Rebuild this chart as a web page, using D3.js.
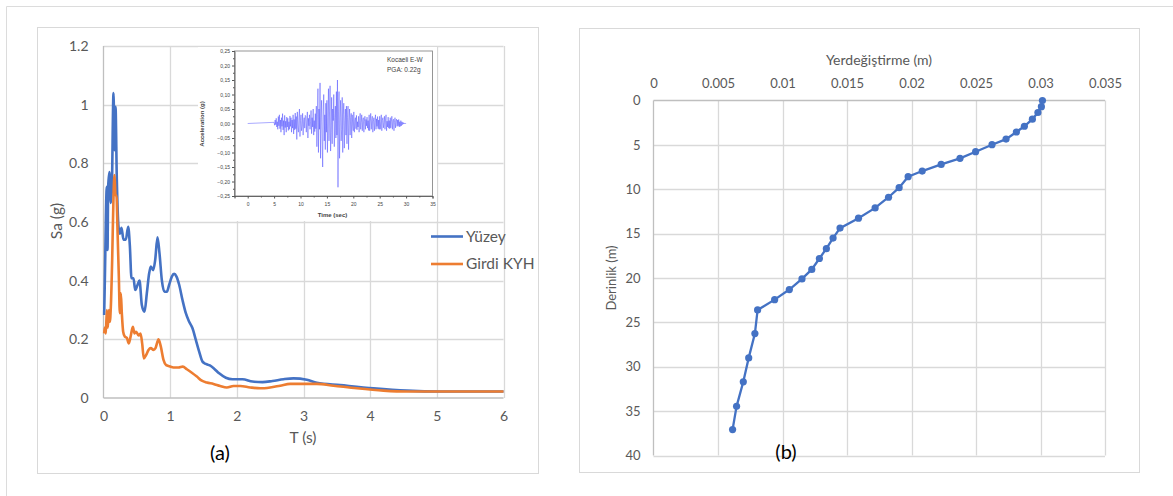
<!DOCTYPE html>
<html>
<head>
<meta charset="utf-8">
<script src="https://cdn.jsdelivr.net/npm/d3@7"></script>
<style>
  body { margin: 0; background: #fff; }
  svg { display: block; font-family: Lato, "Open Sans", sans-serif; }
</style>
</head>
<body>
<svg id="canvas" width="1173" height="496"></svg>
<script>
// ---------------------------------------------------------------- data
var periods_surface = [0.01,0.02,0.05,0.06,0.07,0.089,0.11,0.125,0.15,0.165,0.18,0.2,0.225,0.245,0.27,0.3,0.335,0.37,0.395,0.42,0.45,0.475,0.51,0.54,0.575,0.615,0.65,0.685,0.71,0.745,0.775,0.81,0.84,0.875,0.915,0.95,0.985,1.025,1.06,1.095,1.135,1.185,1.235,1.285,1.335,1.385,1.435,1.485,1.535,1.595,1.66,1.735,1.835,1.935,2.085,2.235,2.385,2.535,2.7,2.85,3.05,3.2,3.55,4.05,4.55,5.05,6];
var sa_surface = [0.283,0.40,0.72,0.505,0.72,0.77,0.665,0.71,1.04,0.845,0.993,0.743,0.584,0.56,0.58,0.54,0.54,0.584,0.52,0.408,0.408,0.368,0.385,0.40,0.317,0.294,0.357,0.425,0.448,0.436,0.47,0.548,0.493,0.402,0.362,0.362,0.386,0.414,0.423,0.414,0.386,0.334,0.289,0.26,0.238,0.198,0.158,0.124,0.116,0.111,0.10,0.084,0.069,0.064,0.064,0.056,0.054,0.058,0.064,0.067,0.062,0.052,0.044,0.033,0.025,0.022,0.022];

var periods_input = [0.01,0.02,0.035,0.05,0.065,0.08,0.095,0.11,0.13,0.15,0.165,0.18,0.195,0.21,0.23,0.245,0.26,0.275,0.295,0.32,0.35,0.38,0.41,0.44,0.465,0.49,0.525,0.555,0.58,0.605,0.64,0.675,0.71,0.75,0.78,0.825,0.86,0.9,0.94,0.99,1.05,1.125,1.19,1.25,1.325,1.4,1.475,1.55,1.65,1.75,1.85,1.95,2.05,2.2,2.35,2.5,2.65,2.8,3.2,3.45,3.8,4.2,4.55,6];
var sa_input = [0.22,0.24,0.22,0.30,0.24,0.30,0.26,0.31,0.47,0.686,0.76,0.69,0.69,0.573,0.414,0.289,0.357,0.289,0.226,0.209,0.205,0.186,0.213,0.243,0.22,0.226,0.213,0.22,0.186,0.135,0.147,0.164,0.17,0.164,0.17,0.20,0.175,0.13,0.112,0.108,0.104,0.104,0.107,0.098,0.086,0.073,0.059,0.053,0.048,0.041,0.036,0.041,0.041,0.036,0.033,0.036,0.042,0.048,0.048,0.042,0.033,0.025,0.022,0.022];

var series_names = ['Yüzey', 'Girdi KYH'];
var series_colors = ['#4472C4', '#ED7D31'];
var sa_ticks = [0, 0.2, 0.4, 0.6, 0.8, 1, 1.2];
var period_ticks = [0, 1, 2, 3, 4, 5, 6];

// Kocaeli E-W record, inset (samples every 0.1 s from 5 s)
var acc_start = 5, acc_step = 0.1;
var acc_values = [0.004,-0.006,0.012,-0.004,0.018,-0.012,0.006,-0.02,0.024,-0.008,0.03,-0.018,0.012,-0.03,0.02,-0.01,0.034,-0.022,0.01,-0.04,
  0.028,-0.014,0.008,-0.03,0.022,-0.012,0.018,-0.024,0.006,-0.02,0.026,-0.01,0.02,-0.03,0.012,-0.016,0.03,-0.036,0.014,-0.022,
  0.036,-0.018,0.024,-0.055,0.04,-0.012,-0.03,0.02,0.05,-0.045,0.01,0.03,-0.025,-0.01,0.035,-0.04,0.008,0.02,-0.016,0.028,
  0.025,-0.03,0.012,0.04,-0.05,0.018,-0.008,0.03,-0.02,0.006,0.045,-0.035,0.02,-0.012,0.05,-0.04,0.01,-0.028,0.034,-0.018,
  0.06,-0.08,0.03,0.12,-0.1,0.05,-0.02,0.14,-0.12,0.02,0.08,-0.05,-0.15,0.04,0.1,-0.06,0.03,-0.09,0.07,-0.03,
  0.08,-0.1,0.02,0.12,-0.06,0.04,0.13,-0.095,-0.03,0.09,-0.07,0.05,0.01,0.1,-0.08,0.02,0.06,-0.05,0.11,-0.04,
  0.15,-0.22,0.04,0.11,-0.12,0.02,0.08,-0.06,-0.02,0.09,-0.1,0.03,0.07,-0.085,0.01,0.05,-0.04,0.06,-0.07,0.02,
  0.06,-0.09,0.01,0.05,-0.04,0.02,0.035,-0.05,0.03,-0.01,-0.025,0.04,-0.03,0.012,0.02,-0.018,0.028,-0.022,0.006,-0.012,
  0.025,-0.03,0.01,0.035,-0.02,0.004,0.03,-0.025,0.012,0.02,-0.03,0.006,0.025,-0.02,0.014,-0.008,0.022,-0.016,0.01,-0.024,
  0.03,-0.025,0.008,0.035,-0.02,0.012,0.025,-0.03,0.006,0.02,-0.025,0.01,0.03,-0.02,0.016,-0.01,0.024,-0.018,0.012,-0.02,
  0.025,-0.02,0.006,0.03,-0.025,0.01,0.02,-0.015,0.004,0.025,-0.02,0.012,0.03,-0.025,0.008,-0.012,0.022,-0.016,0.01,-0.018,
  0.02,-0.015,0.006,0.025,-0.02,0.01,0.015,-0.025,0.004,0.02,-0.015,0.008,0.015,-0.01,0.012,-0.008,0.014,-0.012,0.006,-0.01,
  0.01,-0.008,0.006,-0.004,0.004,-0.002,0.002,-0.001,0.001,0,0];
var acc_ticks = [-0.25,-0.2,-0.15,-0.1,-0.05,0,0.05,0.1,0.15,0.2,0.25];
var time_ticks = [0, 5, 10, 15, 20, 25, 30, 35];

var depth = [0,0.7,1.35,2.1,2.9,3.55,4.35,4.98,5.77,6.52,7.2,7.95,8.58,9.82,10.9,12.1,13.26,14.38,15.5,16.7,17.8,19.03,20.1,21.3,22.44,23.6,26.26,29.0,31.7,34.46,37.08];
var displacement = [0.03015,0.03007,0.0298,0.02937,0.02875,0.02813,0.02733,0.02624,0.02497,0.02376,0.0223,0.02083,0.01974,0.01904,0.01822,0.01718,0.01589,0.01446,0.01392,0.0134,0.01286,0.01227,0.01151,0.01053,0.00939,0.00807,0.00786,0.00738,0.00696,0.00644,0.00613];
var disp_ticks = [0, 0.005, 0.01, 0.015, 0.02, 0.025, 0.03, 0.035];
var depth_ticks = [0, 5, 10, 15, 20, 25, 30, 35, 40];

// ---------------------------------------------------------------- page
var svg = d3.select('#canvas');
var grid_col = '#d9d9d9', axis_col = '#bfbfbf', label_col = '#595959';

svg.append('line').attr('x1', 6.5).attr('y1', 6.5).attr('x2', 1173).attr('y2', 6.5).style('stroke', '#dcdcdc');
svg.append('line').attr('x1', 6.5).attr('y1', 6.5).attr('x2', 6.5).attr('y2', 496).style('stroke', '#dcdcdc');

// ---------------------------------------------------------------- (a) spectra
svg.append('rect').attr('x', 37.5).attr('y', 27.5).attr('width', 501).attr('height', 446)
  .style('fill', '#fff').style('stroke', grid_col);

var xL = d3.scaleLinear().domain([0, 6]).range([103.5, 503.5]);
var yL = d3.scaleLinear().domain([0, 1.2]).range([398, 46]);

var gridL = svg.append('g');
gridL.selectAll('.h').data(sa_ticks.slice(1)).enter().append('line')
  .attr('x1', xL(0)).attr('x2', xL(6)).attr('y1', d => Math.round(yL(d)) + 0.5).attr('y2', d => Math.round(yL(d)) + 0.5)
  .style('stroke', grid_col).style('stroke-width', 1.3);
gridL.selectAll('.v').data(period_ticks.slice(1)).enter().append('line')
  .attr('x1', d => Math.round(xL(d)) + 0.5).attr('x2', d => Math.round(xL(d)) + 0.5).attr('y1', yL(0)).attr('y2', yL(1.2))
  .style('stroke', grid_col).style('stroke-width', 1.3);
svg.append('line').attr('x1', xL(0)).attr('x2', xL(6)).attr('y1', yL(0)).attr('y2', yL(0)).style('stroke', axis_col).style('stroke-width', 1.3);
svg.append('line').attr('x1', xL(0)).attr('x2', xL(0)).attr('y1', yL(0)).attr('y2', yL(1.2)).style('stroke', axis_col).style('stroke-width', 1.3);

var yAxisL = svg.append('g').attr('transform', 'translate(' + xL(0) + ',0)')
  .call(d3.axisLeft(yL).tickValues(sa_ticks).tickSize(0).tickPadding(15).tickFormat(d3.format('~g')));
var xAxisL = svg.append('g').attr('transform', 'translate(0,' + yL(0) + ')')
  .call(d3.axisBottom(xL).tickValues(period_ticks).tickSize(0).tickPadding(13).tickFormat(d3.format('~g')));
[yAxisL, xAxisL].forEach(function(a){
  a.select('.domain').remove();
  a.selectAll('text').style('font-size', '14px').style('fill', label_col).style('font-family', 'Lato, sans-serif');
});

svg.append('text').attr('transform', 'translate(62,221) rotate(-90)').attr('text-anchor', 'middle')
  .style('font-size', '15.5px').style('fill', label_col).text('Sa (g)');
svg.append('text').attr('x', 303).attr('y', 443).attr('text-anchor', 'middle')
  .style('font-size', '15.5px').style('fill', label_col).text('T (s)');
svg.append('text').attr('x', 220).attr('y', 460).attr('text-anchor', 'middle')
  .style('font-size', '20px').style('fill', '#000').text('(a)');

var lineL = d3.line().x(d => xL(d[0])).y(d => yL(d[1])).curve(d3.curveMonotoneX);
var spectra = [
  periods_surface.map((t, i) => [t, sa_surface[i]]),
  periods_input.map((t, i) => [t, sa_input[i]])
];
svg.selectAll('.spec').data(spectra).enter().append('path')
  .attr('d', lineL)
  .style('fill', 'none').style('stroke', (d, i) => series_colors[i]).style('stroke-width', 2.6)
  .style('stroke-linejoin', 'round');

// legend
series_names.forEach(function(name, i){
  var ly = 236.5 + i * 27.5;
  svg.append('line').attr('x1', 431).attr('x2', 463).attr('y1', ly).attr('y2', ly)
    .style('stroke', series_colors[i]).style('stroke-width', 2.6);
  svg.append('text').attr('x', 466).attr('y', ly + 5).style('font-size', '15.5px').style('fill', label_col).text(name);
});

// ---------------------------------------------------------------- inset record
svg.append('rect').attr('x', 198).attr('y', 47).attr('width', 239).attr('height', 174).style('fill', '#fff');

var xI = d3.scaleLinear().domain([-2.5, 35]).range([234.5, 432.5]);
var yI = d3.scaleLinear().domain([-0.25, 0.25]).range([196, 51]);
var commaFmt = d => d3.format('.2f')(d).replace('.', ',');

svg.append('rect').attr('x', xI(-2.5)).attr('y', yI(0.25)).attr('width', xI(35) - xI(-2.5)).attr('height', yI(-0.25) - yI(0.25))
  .style('fill', 'none').style('stroke', '#8a8a8a').style('stroke-width', 0.9);

var yAxisI = svg.append('g').attr('transform', 'translate(' + xI(-2.5) + ',0)')
  .call(d3.axisLeft(yI).tickValues(acc_ticks).tickSize(2.5).tickPadding(2).tickFormat(commaFmt));
var xAxisI = svg.append('g').attr('transform', 'translate(0,' + yI(-0.25) + ')')
  .call(d3.axisBottom(xI).tickValues(time_ticks).tickSize(2.5).tickPadding(4).tickFormat(d3.format('d')));
// minor ticks
svg.append('g').attr('transform', 'translate(' + xI(-2.5) + ',0)')
  .call(d3.axisLeft(yI).tickValues(acc_ticks.slice(1).map(d => d - 0.025)).tickSize(1.5).tickFormat(''))
  .select('.domain').remove();
svg.append('g').attr('transform', 'translate(0,' + yI(-0.25) + ')')
  .call(d3.axisBottom(xI).tickValues(time_ticks.map(d => d - 2.5)).tickSize(1.5).tickFormat(''))
  .select('.domain').remove();
svg.selectAll('.tick line').style('stroke', '#555');
[yAxisI, xAxisI].forEach(function(a){
  a.select('.domain').style('stroke', '#666');
  a.selectAll('text').style('font-size', '5px').style('fill', '#444').style('font-family', 'Arial, "Liberation Sans", sans-serif');
});

svg.append('text').attr('x', 332.5).attr('y', 217).attr('text-anchor', 'middle')
  .style('font-size', '6px').style('font-weight', 'bold').style('fill', '#444')
  .style('font-family', 'Arial, "Liberation Sans", sans-serif').text('Time (sec)');
svg.append('text').attr('transform', 'translate(204,124) rotate(-90)').attr('text-anchor', 'middle')
  .style('font-size', '6px').style('font-weight', 'bold').style('fill', '#444')
  .style('font-family', 'Arial, "Liberation Sans", sans-serif').text('Acceleration (g)');
svg.append('text').attr('x', 387).attr('y', 62).style('font-size', '6.5px').style('fill', '#444')
  .style('font-family', 'Arial, "Liberation Sans", sans-serif').text('Kocaeli E-W');
svg.append('text').attr('x', 387).attr('y', 71.5).style('font-size', '6.5px').style('fill', '#444')
  .style('font-family', 'Arial, "Liberation Sans", sans-serif').text('PGA: 0.22g');

var acc_points = [[0, 0]].concat(acc_values.map((a, i) => [acc_start + i * acc_step, a]));
svg.append('path').datum(acc_points)
  .attr('d', d3.line().x(d => xI(d[0])).y(d => yI(d[1])))
  .style('fill', 'none').style('stroke', '#4040ff').style('stroke-width', 0.6).style('opacity', 0.75);

// ---------------------------------------------------------------- (b) displacement profile
svg.append('rect').attr('x', 579.5).attr('y', 28.5).attr('width', 560).attr('height', 444)
  .style('fill', '#fff').style('stroke', grid_col);

var xR = d3.scaleLinear().domain([0, 0.035]).range([653.5, 1105]);
var yR = d3.scaleLinear().domain([0, 40]).range([100.5, 455.5]);

svg.append('g').selectAll('line').data(disp_ticks.slice(1)).enter().append('line')
  .attr('x1', d => Math.round(xR(d)) + 0.5).attr('x2', d => Math.round(xR(d)) + 0.5).attr('y1', yR(0)).attr('y2', yR(40))
  .style('stroke', grid_col).style('stroke-width', 1.3);
svg.append('g').selectAll('line').data(depth_ticks.slice(1)).enter().append('line')
  .attr('x1', xR(0)).attr('x2', xR(0.035)).attr('y1', d => Math.round(yR(d)) + 0.5).attr('y2', d => Math.round(yR(d)) + 0.5)
  .style('stroke', grid_col).style('stroke-width', 1.3);
svg.append('line').attr('x1', xR(0)).attr('x2', xR(0.035)).attr('y1', yR(0)).attr('y2', yR(0)).style('stroke', axis_col).style('stroke-width', 1.3);
svg.append('line').attr('x1', xR(0)).attr('x2', xR(0)).attr('y1', yR(0)).attr('y2', yR(40)).style('stroke', axis_col).style('stroke-width', 1.3);

var xAxisR = svg.append('g').attr('transform', 'translate(0,' + yR(0) + ')')
  .call(d3.axisTop(xR).tickValues(disp_ticks).tickSize(0).tickPadding(13).tickFormat(d3.format('~g')));
var yAxisR = svg.append('g').attr('transform', 'translate(' + xR(0) + ',0)')
  .call(d3.axisLeft(yR).tickValues(depth_ticks).tickSize(0).tickPadding(13).tickFormat(d3.format('d')));
[xAxisR, yAxisR].forEach(function(a){
  a.select('.domain').remove();
  a.selectAll('text').style('font-size', '13px').style('fill', label_col).style('font-family', 'Lato, sans-serif');
});

svg.append('text').attr('x', 879).attr('y', 65).attr('text-anchor', 'middle')
  .style('font-size', '14px').style('fill', label_col).text('Yerdeğiştirme (m)');
svg.append('text').attr('transform', 'translate(616,278) rotate(-90)').attr('text-anchor', 'middle')
  .style('font-size', '13px').style('fill', label_col).text('Derinlik (m)');
svg.append('text').attr('x', 786).attr('y', 459).attr('text-anchor', 'middle')
  .style('font-size', '20px').style('fill', '#000').text('(b)');

var profile = depth.map((d, i) => [displacement[i], d]);
svg.append('path').datum(profile)
  .attr('d', d3.line().x(d => xR(d[0])).y(d => yR(d[1])))
  .style('fill', 'none').style('stroke', '#4472C4').style('stroke-width', 2.3);
svg.selectAll('.pt').data(profile).enter().append('circle')
  .attr('cx', d => xR(d[0])).attr('cy', d => yR(d[1])).attr('r', 3.6)
  .style('fill', '#4472C4');
</script>
</body>
</html>
